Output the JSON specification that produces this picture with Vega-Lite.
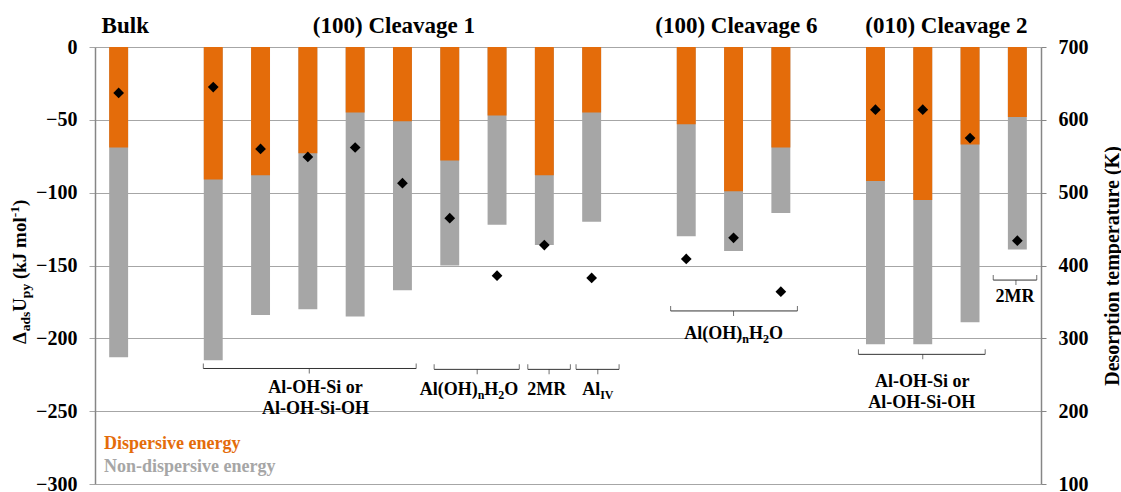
{
  "$schema": "https://vega.github.io/schema/vega-lite/v6.json",
  "autosize": {"type": "none"},
  "padding": {"left": 95, "top": 47, "right": 80, "bottom": 8},
  "width": 946,
  "height": 437,
  "background": "white",
  "config": {"view": {"stroke": null}, "font": "Liberation Serif, Times New Roman, serif", "text": {"font": "Liberation Serif, Times New Roman, serif", "fontWeight": "bold", "color": "black"}},
  "datasets": {
    "bars": [
      {"pos": 0, "surface": "Bulk", "disp": -69, "total": -213, "temp": 637},
      {"pos": 2, "surface": "(100) Cleavage 1", "disp": -91, "total": -215, "temp": 645},
      {"pos": 3, "surface": "(100) Cleavage 1", "disp": -88, "total": -184, "temp": 560},
      {"pos": 4, "surface": "(100) Cleavage 1", "disp": -73, "total": -180, "temp": 549},
      {"pos": 5, "surface": "(100) Cleavage 1", "disp": -45, "total": -185, "temp": 562},
      {"pos": 6, "surface": "(100) Cleavage 1", "disp": -51, "total": -167, "temp": 513},
      {"pos": 7, "surface": "(100) Cleavage 1", "disp": -78, "total": -150, "temp": 465},
      {"pos": 8, "surface": "(100) Cleavage 1", "disp": -47, "total": -122, "temp": 386},
      {"pos": 9, "surface": "(100) Cleavage 1", "disp": -88, "total": -136, "temp": 428},
      {"pos": 10, "surface": "(100) Cleavage 1", "disp": -45, "total": -120, "temp": 383},
      {"pos": 12, "surface": "(100) Cleavage 6", "disp": -53, "total": -130, "temp": 409},
      {"pos": 13, "surface": "(100) Cleavage 6", "disp": -99, "total": -140, "temp": 438},
      {"pos": 14, "surface": "(100) Cleavage 6", "disp": -69, "total": -114, "temp": 364},
      {"pos": 16, "surface": "(010) Cleavage 2", "disp": -92, "total": -204, "temp": 614},
      {"pos": 17, "surface": "(010) Cleavage 2", "disp": -105, "total": -204, "temp": 614},
      {"pos": 18, "surface": "(010) Cleavage 2", "disp": -67, "total": -189, "temp": 575},
      {"pos": 19, "surface": "(010) Cleavage 2", "disp": -48, "total": -139, "temp": 434}
    ],
    "brackets": [
      {"x1": 2.29, "x2": 6.79, "xc": 4.53, "y": -220.7},
      {"x1": 7.17, "x2": 8.97, "xc": 8.08, "y": -221.3},
      {"x1": 9.15, "x2": 10.05, "xc": 9.6, "y": -221.3},
      {"x1": 10.17, "x2": 11.08, "xc": 10.63, "y": -221.3},
      {"x1": 12.17, "x2": 14.85, "xc": 13.5, "y": -181.2},
      {"x1": 16.14, "x2": 18.82, "xc": 17.5, "y": -211},
      {"x1": 18.99, "x2": 19.91, "xc": 19.47, "y": -160}
    ],
    "labels": [
      {"text": "Al-OH-Si or", "x": 4.66, "y": -237.7},
      {"text": "Al-OH-Si-OH", "x": 4.66, "y": -251.9},
      {"text": "2MR", "x": 9.55, "y": -238.9},
      {"text": "Al-OH-Si or", "x": 17.49, "y": -233.2},
      {"text": "Al-OH-Si-OH", "x": 17.48, "y": -247.6},
      {"text": "2MR", "x": 19.45, "y": -174.8}
    ],
    "pieces": [
      {"text": "Al(OH)", "x": 6.864, "y": -238.9},
      {"text": "H", "x": 8.231, "y": -238.9},
      {"text": "O", "x": 8.654, "y": -238.9},
      {"text": "Al", "x": 10.30, "y": -238.9},
      {"text": "Al(OH)", "x": 12.46, "y": -200.8},
      {"text": "H", "x": 13.827, "y": -200.8},
      {"text": "O", "x": 14.250, "y": -200.8}
    ],
    "subs": [
      {"text": "n", "x": 8.090, "y": -238.9},
      {"text": "2", "x": 8.527, "y": -238.9},
      {"text": "IV", "x": 10.680, "y": -238.9},
      {"text": "n", "x": 13.686, "y": -200.8},
      {"text": "2", "x": 14.123, "y": -200.8}
    ],
    "titles": [
      {"text": "Bulk", "x": 0.64, "y": 9.6},
      {"text": "(100) Cleavage 1", "x": 6.32, "y": 9.6},
      {"text": "(100) Cleavage 6", "x": 13.56, "y": 9.6},
      {"text": "(010) Cleavage 2", "x": 18.0, "y": 9.6}
    ],
    "legend": [
      {"text": "Dispersive energy", "x": 0.19, "y": -272.6},
      {"text": "Non-dispersive energy", "x": 0.19, "y": -288.2}
    ],
    "ytitle": [
      {"text": "Δ", "x": -1.452, "y": -203.9},
      {"text": "U", "x": -1.452, "y": -181.8},
      {"text": "(kJ mol", "x": -1.452, "y": -159.3},
      {"text": ")", "x": -1.452, "y": -109.2}
    ],
    "ytitleSub": [
      {"text": "ads", "x": -1.452, "y": -195.2},
      {"text": "py", "x": -1.452, "y": -172.4}
    ],
    "ytitleSup": [
      {"text": "-1", "x": -1.452, "y": -116.9}
    ]
  },
  "resolve": {"scale": {"x": "independent", "y": "independent", "color": "independent"}},
  "layer": [
    {
      "data": {"name": "bars"},
      "mark": {"type": "bar", "color": "#A6A6A6"},
      "encoding": {
        "x": {"field": "pos", "type": "ordinal", "scale": {"type": "band", "domain": [0,1,2,3,4,5,6,7,8,9,10,11,12,13,14,15,16,17,18,19], "paddingInner": 0.6, "paddingOuter": 0.3}, "axis": null},
        "y": {"field": "total", "type": "quantitative", "scale": {"domain": [-300, 0], "nice": false},
          "axis": {"values": [0, -50, -100, -150, -200, -250, -300], "grid": true, "gridColor": "#a6a6a6", "gridWidth": 1, "domainColor": "#868686", "domainWidth": 1.5, "tickColor": "#a6a6a6", "tickSize": 6, "labelFont": "Liberation Serif, Times New Roman, serif", "labelFontWeight": "bold", "labelFontSize": 20, "labelColor": "black", "labelPadding": 12, "labelFlush": false, "labelOverlap": false, "title": null}}
      }
    },
    {
      "data": {"name": "bars"},
      "mark": {"type": "bar", "color": "#E46C0A"},
      "encoding": {
        "x": {"field": "pos", "type": "ordinal", "scale": {"type": "band", "domain": [0,1,2,3,4,5,6,7,8,9,10,11,12,13,14,15,16,17,18,19], "paddingInner": 0.6, "paddingOuter": 0.3}, "axis": null},
        "y": {"field": "disp", "type": "quantitative", "scale": {"domain": [-300, 0], "nice": false}, "axis": null}
      }
    },
    {
      "data": {"name": "bars"},
      "mark": {"type": "point", "shape": "diamond", "filled": true, "color": "black", "size": 115, "opacity": 1},
      "encoding": {
        "x": {"field": "pos", "type": "ordinal", "scale": {"type": "band", "domain": [0,1,2,3,4,5,6,7,8,9,10,11,12,13,14,15,16,17,18,19], "paddingInner": 0.6, "paddingOuter": 0.3}, "axis": null},
        "y": {"field": "temp", "type": "quantitative", "scale": {"domain": [100, 700], "nice": false, "zero": false},
          "axis": {"orient": "right", "values": [100, 200, 300, 400, 500, 600, 700], "grid": false, "domainColor": "#868686", "domainWidth": 1.5, "tickColor": "#868686", "tickSize": 5, "labelFont": "Liberation Serif, Times New Roman, serif", "labelFontWeight": "bold", "labelFontSize": 20, "labelColor": "black", "labelPadding": 12, "labelFlush": false, "labelOverlap": false,
            "title": "Desorption temperature (K)", "titleFont": "Liberation Serif, Times New Roman, serif", "titleFontWeight": "bold", "titleFontSize": 20, "titleColor": "black", "titleAngle": 270, "titlePadding": 34}}
      }
    },
    {
      "data": {"name": "brackets"},
      "mark": {"type": "rule", "color": "#333333", "strokeWidth": 1},
      "encoding": {
        "x": {"field": "x1", "type": "quantitative", "scale": {"domain": [0, 20], "nice": false, "zero": false}, "axis": null},
        "x2": {"field": "x2"},
        "y": {"field": "y", "type": "quantitative", "scale": {"domain": [-300, 0], "nice": false}, "axis": null}
      }
    },
    {
      "data": {"name": "brackets"},
      "transform": [{"fold": ["x1", "x2"], "as": ["end", "xe"]}],
      "mark": {"type": "tick", "orient": "vertical", "color": "#333333", "size": 5, "thickness": 1, "yOffset": -2.5},
      "encoding": {
        "x": {"field": "xe", "type": "quantitative", "scale": {"domain": [0, 20], "nice": false, "zero": false}, "axis": null},
        "y": {"field": "y", "type": "quantitative", "scale": {"domain": [-300, 0], "nice": false}, "axis": null}
      }
    },
    {
      "data": {"name": "brackets"},
      "mark": {"type": "tick", "orient": "vertical", "color": "#333333", "size": 5, "thickness": 1, "yOffset": 2.5},
      "encoding": {
        "x": {"field": "xc", "type": "quantitative", "scale": {"domain": [0, 20], "nice": false, "zero": false}, "axis": null},
        "y": {"field": "y", "type": "quantitative", "scale": {"domain": [-300, 0], "nice": false}, "axis": null}
      }
    },
    {
      "data": {"name": "labels"},
      "mark": {"type": "text", "fontSize": 18, "align": "center", "baseline": "alphabetic"},
      "encoding": {
        "x": {"field": "x", "type": "quantitative", "scale": {"domain": [0, 20], "nice": false, "zero": false}, "axis": null},
        "y": {"field": "y", "type": "quantitative", "scale": {"domain": [-300, 0], "nice": false}, "axis": null},
        "text": {"field": "text"}
      }
    },
    {
      "data": {"name": "pieces"},
      "mark": {"type": "text", "fontSize": 18, "align": "left", "baseline": "alphabetic"},
      "encoding": {
        "x": {"field": "x", "type": "quantitative", "scale": {"domain": [0, 20], "nice": false, "zero": false}, "axis": null},
        "y": {"field": "y", "type": "quantitative", "scale": {"domain": [-300, 0], "nice": false}, "axis": null},
        "text": {"field": "text"}
      }
    },
    {
      "data": {"name": "subs"},
      "mark": {"type": "text", "fontSize": 12, "align": "left", "baseline": "alphabetic", "dy": 4},
      "encoding": {
        "x": {"field": "x", "type": "quantitative", "scale": {"domain": [0, 20], "nice": false, "zero": false}, "axis": null},
        "y": {"field": "y", "type": "quantitative", "scale": {"domain": [-300, 0], "nice": false}, "axis": null},
        "text": {"field": "text"}
      }
    },
    {
      "data": {"name": "titles"},
      "mark": {"type": "text", "fontSize": 23, "align": "center", "baseline": "alphabetic"},
      "encoding": {
        "x": {"field": "x", "type": "quantitative", "scale": {"domain": [0, 20], "nice": false, "zero": false}, "axis": null},
        "y": {"field": "y", "type": "quantitative", "scale": {"domain": [-300, 0], "nice": false}, "axis": null},
        "text": {"field": "text"}
      }
    },
    {
      "data": {"name": "legend"},
      "mark": {"type": "text", "fontSize": 18, "align": "left", "baseline": "middle"},
      "encoding": {
        "x": {"field": "x", "type": "quantitative", "scale": {"domain": [0, 20], "nice": false, "zero": false}, "axis": null},
        "y": {"field": "y", "type": "quantitative", "scale": {"domain": [-300, 0], "nice": false}, "axis": null},
        "text": {"field": "text"},
        "color": {"field": "text", "type": "nominal", "scale": {"domain": ["Dispersive energy", "Non-dispersive energy"], "range": ["#E46C0A", "#A6A6A6"]}, "legend": null}
      }
    },
    {
      "data": {"name": "ytitle"},
      "mark": {"type": "text", "fontSize": 19, "align": "left", "baseline": "alphabetic", "angle": 270},
      "encoding": {
        "x": {"field": "x", "type": "quantitative", "scale": {"domain": [0, 20], "nice": false, "zero": false}, "axis": null},
        "y": {"field": "y", "type": "quantitative", "scale": {"domain": [-300, 0], "nice": false}, "axis": null},
        "text": {"field": "text"}
      }
    },
    {
      "data": {"name": "ytitleSub"},
      "mark": {"type": "text", "fontSize": 13.5, "align": "left", "baseline": "alphabetic", "angle": 270, "dy": 4},
      "encoding": {
        "x": {"field": "x", "type": "quantitative", "scale": {"domain": [0, 20], "nice": false, "zero": false}, "axis": null},
        "y": {"field": "y", "type": "quantitative", "scale": {"domain": [-300, 0], "nice": false}, "axis": null},
        "text": {"field": "text"}
      }
    },
    {
      "data": {"name": "ytitleSup"},
      "mark": {"type": "text", "fontSize": 13.5, "align": "left", "baseline": "alphabetic", "angle": 270, "dy": -7},
      "encoding": {
        "x": {"field": "x", "type": "quantitative", "scale": {"domain": [0, 20], "nice": false, "zero": false}, "axis": null},
        "y": {"field": "y", "type": "quantitative", "scale": {"domain": [-300, 0], "nice": false}, "axis": null},
        "text": {"field": "text"}
      }
    }
  ]
}
